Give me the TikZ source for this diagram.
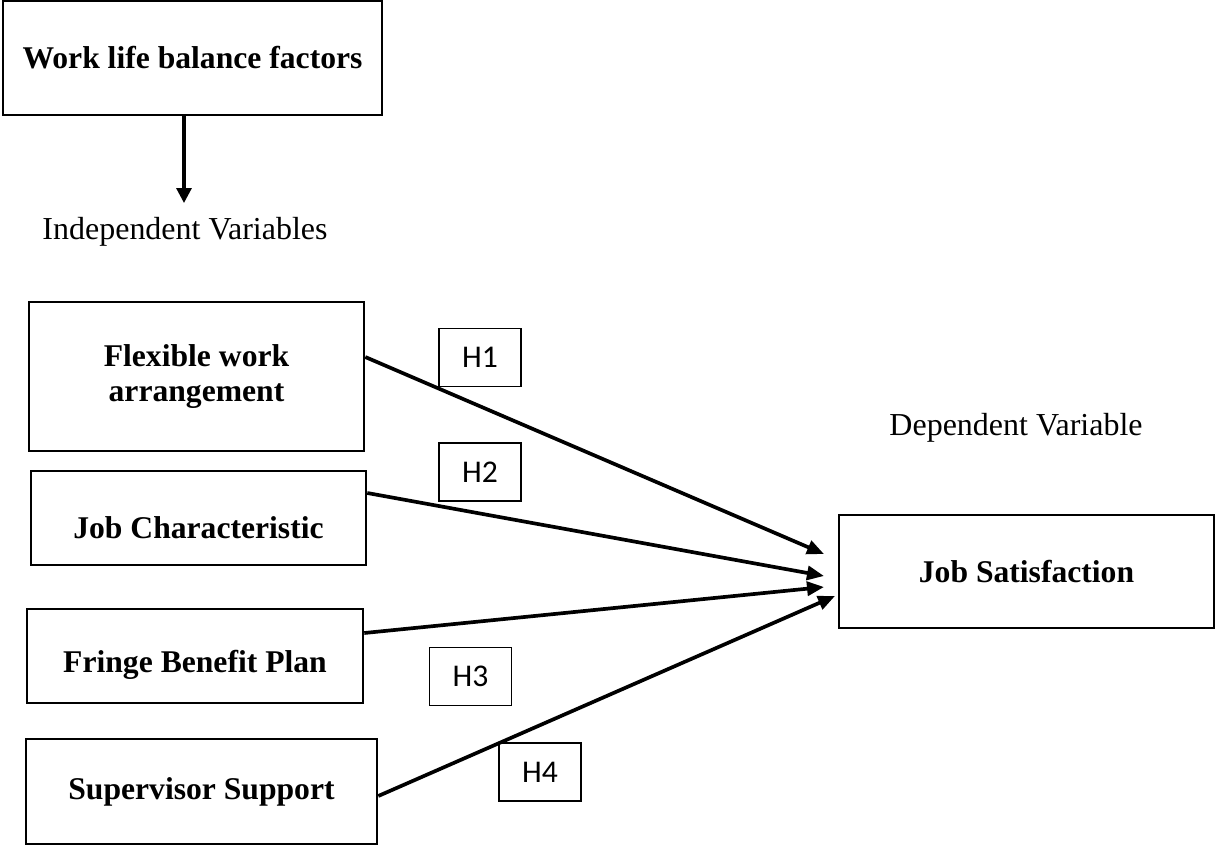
\documentclass[tikz,border=0pt]{standalone}
\usepackage{fontspec}
\setmainfont{Liberation Serif}
\newfontfamily\hypfont{Carlito}
\usetikzlibrary{arrows.meta}
\tikzset{
    varbox/.style={draw, line width=1.5pt, align=center, inner sep=2pt,
        font=\fontsize{18}{20}\selectfont\bfseries},
    hypbox/.style={draw, line width=0.7pt, inner sep=1pt,
        minimum width=1.64cm, minimum height=1.16cm,
        font=\fontsize{18}{20}\selectfont\hypfont},
    plainlabel/.style={font=\fontsize{18.2}{20}\selectfont},
    patharrow/.style={line width=2.1pt, -{Triangle[length=0.34cm,width=0.28cm]}},
}

\begin{document}
\begin{tikzpicture}[x=0.02cm, y=-0.02cm]
    \useasboundingbox (0,0) rectangle (1216,845);
    % factors and labels
    \node[varbox, minimum width=7.58cm, minimum height=2.28cm] (wlb) at (192.5,58) {Work life balance factors};
    \node[plainlabel] (indep) at (185,232) {Independent Variables};
    \node[plainlabel] (dep) at (1016,428) {Dependent Variable};
    \coordinate (wlbtip) at (184,203);
    \draw[line width=1.8pt, -{Triangle[length=0.3cm,width=0.3cm]}] (wlb.south -| wlbtip) -- (wlbtip);
    % independent variables
    \node[varbox, minimum width=6.7cm, minimum height=2.98cm] (flex) at (196.5,376.5) {Flexible work\\arrangement};
    \node[varbox, minimum width=6.7cm, minimum height=1.88cm] (jobc) at (198.5,518) {\raisebox{-0.2cm}[\height][\depth]{Job Characteristic}};
    \node[varbox, minimum width=6.72cm, minimum height=1.88cm] (fringe) at (195,656) {\raisebox{-0.18cm}[\height][\depth]{Fringe Benefit Plan}};
    \node[varbox, minimum width=7.02cm, minimum height=2.1cm] (super) at (201.5,791.5) {Supervisor Support};
    % dependent variable
    \node[varbox, minimum width=7.5cm, minimum height=2.26cm] (js) at (1026.5,571.5) {Job Satisfaction};
    % hypotheses
    \node[hypbox] (h1) at (480,357.5) {H1};
    \node[hypbox] (h2) at (480,472) {H2};
    \node[hypbox] (h3) at (470.5,676.5) {H3};
    \node[hypbox] (h4) at (540,772) {H4};
    % paths
    \coordinate (tip1) at (824,554);
    \coordinate (tip2) at (824,576);
    \coordinate (tip3) at (824,587);
    \coordinate (tip4) at (835,596);
    \draw[patharrow] ([yshift=0.39cm]flex.east) -- (tip1);
    \draw[patharrow] ([yshift=0.5cm]jobc.east) -- (tip2);
    \draw[patharrow] ([yshift=0.46cm]fringe.east) -- (tip3);
    \draw[patharrow] ([yshift=-0.09cm]super.east) -- (tip4);
\end{tikzpicture}
\end{document}
